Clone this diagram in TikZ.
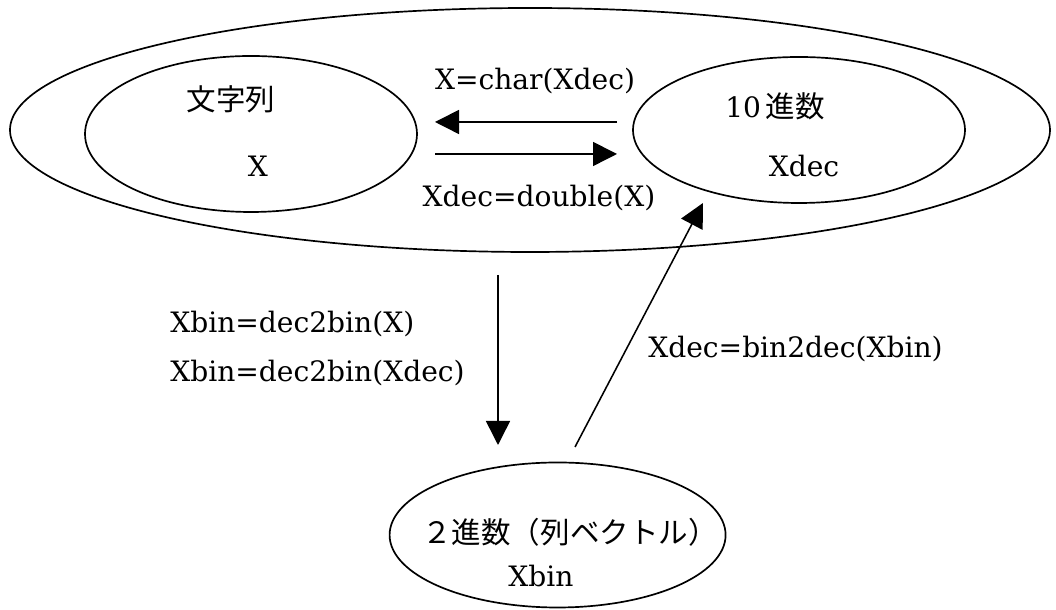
\documentclass[tikz,border=0pt]{standalone}
\usepackage{fontspec}
\setmainfont{DejaVu Serif}
\newfontfamily\jp{Noto Sans CJK JP}
\usepackage{tikz}
\usetikzlibrary{arrows.meta,shapes.geometric}
\tikzset{
    region/.style={draw, ellipse, line width=1.2pt, inner sep=0pt},
    conv/.style={line width=1.1pt, -{Triangle[length=0.6cm, width=0.6cm]}},
    txt/.style={font=\fontsize{20}{24}\selectfont, inner sep=0pt, anchor=base},
    jtxt/.style={font=\jp\fontsize{21}{24}\selectfont, inner sep=0pt, anchor=base}
}
\begin{document}
\begin{tikzpicture}[scale=1]

     \useasboundingbox (0,0) rectangle (26.4,15.25);

     \node [region, minimum width=26cm, minimum height=6.1cm] (all) at (13.25,12.0) {};
     \node [region, minimum width=8.3cm, minimum height=3.9cm] (str) at (6.275,11.9) {};
     \node [region, minimum width=8.3cm, minimum height=3.65cm] (dec) at (19.975,12.0) {};
     \node [region, minimum width=8.4cm, minimum height=3.625cm] (bin) at (13.94,1.875) {};

     \node [jtxt] (strname) at (5.775,12.475) {文字列};
     \node [txt] (strvar) at (6.45,10.825) {X};
     \node [txt] (decname) at (19.375,12.3) {10\,{\jp\fontsize{21}{24}\selectfont 進数}};
     \node [txt] (decvar) at (20.1,10.825) {Xdec};
     \node [jtxt] (binname) at (14.25,1.65) {２進数（列ベクトル）};
     \node [txt] (binvar) at (13.525,0.575) {Xbin};

     \coordinate (chA) at (15.425,12.2);
     \coordinate (chB) at (10.875,12.2);
     \coordinate (dbA) at (10.875,11.4);
     \coordinate (dbB) at (15.425,11.4);
     \coordinate (dbinA) at (12.45,8.375);
     \coordinate (dbinB) at (12.45,4.125);
     \coordinate (bdecA) at (14.375,4.075);
     \coordinate (bdecB) at (17.575,10.175);

     \draw [conv] (chA) -- (chB);
     \draw [conv] (dbA) -- (dbB);
     \draw [conv] (dbinA) -- (dbinB);
     \draw [conv] (bdecA) -- (bdecB);

     \node [txt] (charlbl) at (13.375,13.0) {X=char(Xdec)};
     \node [txt] (doublelbl) at (13.475,10.075) {Xdec=double(X)};
     \node [txt, anchor=base west] (dtobA) at (4.25,6.925) {Xbin=dec2bin(X)};
     \node [txt, anchor=base west] (dtobB) at (4.25,5.7) {Xbin=dec2bin(Xdec)};
     \node [txt, anchor=base west] (btodlbl) at (16.2,6.3) {Xdec=bin2dec(Xbin)};
\end{tikzpicture}
\end{document}
